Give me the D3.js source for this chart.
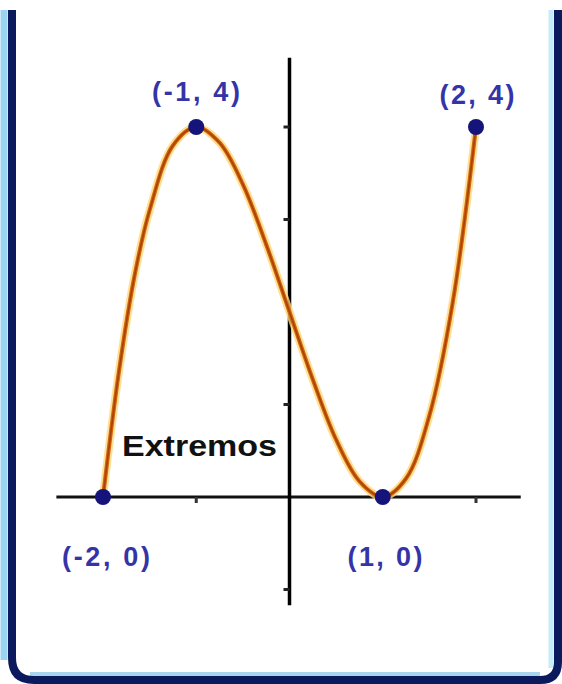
<!DOCTYPE html>
<html>
<head>
<meta charset="utf-8">
<script src="https://cdn.jsdelivr.net/npm/d3@7"></script>
<style>
  body { margin: 0; background: #fff; }
  svg { display: block; }
</style>
</head>
<body>
<svg width="562" height="684"></svg>
<script>
// Curve points
const curveX = [-2, -1.83, -1.66, -1.5, -1.25, -1, -0.75, -0.5, -0.25, 0, 0.25, 0.5, 0.75, 1, 1.25, 1.5, 1.75, 2];
const curveY = [0, 1.35, 2.4, 3.1, 3.8, 4, 3.83, 3.38, 2.73, 2, 1.27, 0.62, 0.17, 0, 0.2, 0.88, 2.1, 4];

// Marked extreme points and their labels
const pointX = [-1, 2, -2, 1];
const pointY = [4, 4, 0, 0];
const pointLabels = ["(-1, 4)", "(2, 4)", "(-2, 0)", "(1, 0)"];

const yTicks = [4, 3, 1, -1];
const xTicks = [-1, 2];

const svg = d3.select("svg");

// Scales: -2..2 over 103..476, 0..4 over 497..127
const x = d3.scaleLinear().domain([-2, 2]).range([103, 476]);
const y = d3.scaleLinear().domain([0, 4]).range([497, 127]);

// Light blue edges of the frame
svg.append("line").attr("x1", 4).attr("x2", 4).attr("y1", 10).attr("y2", 660)
    .attr("stroke", "#9ad4f2").attr("stroke-width", 7);
svg.append("line").attr("x1", 551).attr("x2", 551).attr("y1", 10).attr("y2", 668)
    .attr("stroke", "#c4ecfa").attr("stroke-width", 5);
svg.append("line").attr("x1", 30).attr("x2", 540).attr("y1", 674).attr("y2", 674)
    .attr("stroke", "#a8d4ee").attr("stroke-width", 4);

// Dark navy frame (left, right, bottom with rounded corners)
const frame = d3.path();
frame.moveTo(12, 10);
frame.lineTo(12, 658);
frame.quadraticCurveTo(12, 680, 34, 680);
frame.lineTo(540, 680);
frame.quadraticCurveTo(558, 680, 558, 662);
frame.lineTo(558, 10);
svg.append("path").attr("d", frame.toString())
    .attr("fill", "none").attr("stroke", "#0b1a5c").attr("stroke-width", 8);

// Axes
svg.append("line")
    .attr("x1", x(-2.5)).attr("x2", x(2.48))
    .attr("y1", y(0)).attr("y2", y(0))
    .attr("stroke", "#111").attr("stroke-width", 3);
svg.append("line")
    .attr("x1", x(0)).attr("x2", x(0))
    .attr("y1", y(4.75)).attr("y2", y(-1.17))
    .attr("stroke", "#000").attr("stroke-width", 3.5);

// Tick marks
svg.selectAll(".ytick").data(yTicks).enter().append("line")
    .attr("x1", x(0) - 6).attr("x2", x(0))
    .attr("y1", d => y(d)).attr("y2", d => y(d))
    .attr("stroke", "#222").attr("stroke-width", 3);
svg.selectAll(".xtick").data(xTicks).enter().append("line")
    .attr("x1", d => x(d)).attr("x2", d => x(d))
    .attr("y1", y(0)).attr("y2", y(0) + 6)
    .attr("stroke", "#333").attr("stroke-width", 3);

// Curve: yellow glow + orange/brown core
const data = curveX.map((v, i) => ({ x: v, y: curveY[i] }));
const line = d3.line().x(d => x(d.x)).y(d => y(d.y)).curve(d3.curveCatmullRom);
svg.append("path").datum(data).attr("d", line)
    .attr("fill", "none").attr("stroke", "#ffd87a").attr("stroke-width", 8).attr("opacity", 0.8);
svg.append("path").datum(data).attr("d", line)
    .attr("fill", "none").attr("stroke", "#d0640a").attr("stroke-width", 4);
svg.append("path").datum(data).attr("d", line)
    .attr("fill", "none").attr("stroke", "#a8400a").attr("stroke-width", 1.5);

// Points
svg.selectAll(".pt").data(pointX).enter().append("circle")
    .attr("cx", d => x(d)).attr("cy", (d, i) => y(pointY[i]))
    .attr("r", 8).attr("fill", "#14147a");

// Point labels
const labelPos = [[196, 101, 88], [477, 104, 75], [106, 566, 88], [385, 566, 75]];
svg.selectAll(".lbl").data(pointLabels).enter().append("text")
    .attr("x", (d, i) => labelPos[i][0])
    .attr("y", (d, i) => labelPos[i][1])
    .attr("text-anchor", "middle")
    .attr("textLength", (d, i) => labelPos[i][2])
    .attr("lengthAdjust", "spacing")
    .attr("font-family", "Liberation Sans, Arial, sans-serif")
    .attr("font-weight", "bold")
    .attr("font-size", 27)
    .attr("fill", "#3434a8")
    .text(d => d);

// Title text
svg.append("text")
    .attr("x", 122).attr("y", 456)
    .attr("textLength", 155)
    .attr("lengthAdjust", "spacingAndGlyphs")
    .attr("font-family", "Liberation Sans, Arial, sans-serif")
    .attr("font-weight", "bold")
    .attr("font-size", 30)
    .attr("fill", "#111")
    .text("Extremos");
</script>
</body>
</html>
